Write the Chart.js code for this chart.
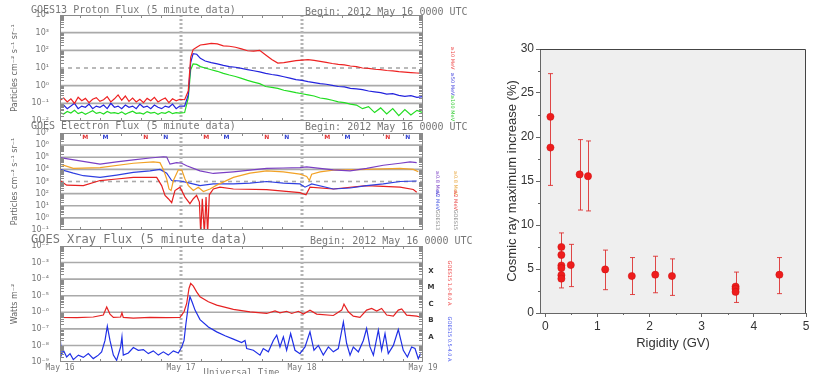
<!DOCTYPE html>
<html>
<head>
<meta charset="utf-8">
<script src="https://cdn.jsdelivr.net/npm/chart.js@4.4.1/dist/chart.umd.min.js"></script>
<style>
html, body { margin: 0; padding: 0; background: #fff; width: 823px; height: 374px; overflow: hidden; }
canvas { position: absolute; }
#c1 { left: 0; top: 0; }
#c2 { left: 0; top: 116px; }
#c3 { left: 0; top: 226px; }
#c4 { left: 501px; top: 30px; }
</style>
</head>
<body>
<canvas id="c1" width="475" height="124"></canvas>
<canvas id="c2" width="475" height="117"></canvas>
<canvas id="c3" width="475" height="160"></canvas>
<canvas id="c4" width="322" height="325"></canvas>
<script>
// ---- proton flux (days since 2012 May 16 00 UT) ----
const protonT = [0, 0.03, 0.06, 0.09, 0.12, 0.15, 0.18, 0.21, 0.24, 0.27, 0.30, 0.33, 0.36, 0.39, 0.42, 0.45, 0.48, 0.51, 0.54, 0.57, 0.60, 0.63, 0.66, 0.69, 0.72, 0.75, 0.78, 0.81, 0.84, 0.87, 0.90, 0.93, 0.96, 0.99,
  1.03, 1.06, 1.08, 1.10, 1.13, 1.16, 1.20,
  1.25, 1.30, 1.35, 1.40, 1.45, 1.50, 1.55, 1.60, 1.65, 1.70, 1.75, 1.80, 1.85, 1.90, 1.95, 2.00, 2.05, 2.10, 2.15, 2.20, 2.25, 2.30, 2.35, 2.40, 2.45, 2.50, 2.55, 2.60, 2.65, 2.70, 2.75, 2.80, 2.85, 2.90, 2.95, 3.00];
const proton10 = [0.15, 0.2, 0.12, 0.18, 0.1, 0.22, 0.14, 0.19, 0.11, 0.17, 0.21, 0.13, 0.16, 0.24, 0.12, 0.18, 0.3, 0.15, 0.26, 0.13, 0.2, 0.12, 0.17, 0.11, 0.19, 0.14, 0.22, 0.12, 0.16, 0.2, 0.11, 0.18, 0.14, 0.17,
  0.16, 0.5, 40, 110, 150, 200, 220,
  250, 230, 180, 170, 150, 120, 95, 90, 100, 55, 30, 19, 20, 23, 26, 28, 30, 27, 24, 21, 18, 16, 15, 13, 12, 10, 9.5, 8.5, 8, 7.2, 6.8, 6.2, 5.8, 5.5, 5.2, 5.0];
const proton50 = [0.06, 0.08, 0.05, 0.07, 0.1, 0.05, 0.07, 0.06, 0.09, 0.05, 0.07, 0.06, 0.08, 0.05, 0.1, 0.06, 0.07, 0.05, 0.08, 0.06, 0.07, 0.05, 0.09, 0.06, 0.07, 0.05, 0.08, 0.06, 0.05, 0.07, 0.06, 0.09, 0.05, 0.07,
  0.07, 0.3, 20, 65, 60, 35, 25,
  20, 17, 14, 12, 11, 9.5, 8, 7, 6, 5, 4.3, 3.8, 3.2, 2.7, 2.2, 2.0, 1.7, 1.5, 1.3, 1.2, 1.05, 0.9, 0.85, 0.7, 0.65, 0.6, 0.5, 0.45, 0.4, 0.33, 0.35, 0.28, 0.25, 0.27, 0.22, 0.24];
const proton100 = [0.03, 0.025, 0.035, 0.028, 0.04, 0.026, 0.032, 0.024, 0.03, 0.038, 0.027, 0.031, 0.025, 0.035, 0.028, 0.03, 0.026, 0.033, 0.024, 0.03, 0.036, 0.027, 0.029, 0.025, 0.034, 0.028, 0.031, 0.024, 0.03, 0.027, 0.035, 0.026, 0.03, 0.028,
  0.03, 0.2, 8, 17, 16, 12, 10,
  8, 6.5, 5, 4, 3.3, 2.6, 2, 1.6, 1.3, 0.9, 0.8, 0.7, 0.55, 0.48, 0.4, 0.35, 0.3, 0.26, 0.2, 0.18, 0.15, 0.12, 0.11, 0.09, 0.08, 0.05, 0.065, 0.03, 0.055, 0.025, 0.05, 0.02, 0.045, 0.022, 0.04, 0.03];

// ---- electron flux ----
const e08g13T = [0, 0.165, 0.331, 0.468, 0.606, 0.744, 0.854, 0.882, 0.909, 0.964, 1.006, 1.047, 1.157, 1.267, 1.433, 1.570, 1.708, 1.846, 1.983, 2.039, 2.149, 2.259, 2.397, 2.534, 2.672, 2.810, 2.893, 2.948];
const e08g13 = [9.3e4, 5e4, 2.7e4, 4.1e4, 6e4, 8.7e4, 1.1e5, 1.05e5, 2.7e4, 3.6e4, 3.2e4, 2e4, 7.6e3, 4.6e3, 6.3e3, 8.6e3, 1.2e4, 1.3e4, 1.4e4, 1.6e4, 1.2e4, 9.1e3, 7.6e3, 1.2e4, 2.2e4, 3.2e4, 4.1e4, 3.6e4];
const e08g15T = [0, 0.110, 0.331, 0.606, 0.771, 0.826, 0.854, 0.882, 0.901, 0.918, 0.937, 0.978, 1.006, 1.033, 1.061, 1.102, 1.143, 1.185, 1.240, 1.295, 1.433, 1.570, 1.708, 1.846, 1.983, 2.039, 2.061, 2.080, 2.149, 2.259, 2.534, 2.810, 2.920, 2.961];
const e08g15 = [2.7e4, 1.2e4, 1.4e4, 3.2e4, 4.1e4, 3.6e4, 1e4, 1.6e3, 2.4e2, 1.8e2, 1.2e3, 9.1e3, 9.1e3, 1.6e3, 4.6e2, 1.8e2, 3.4e2, 1.5e2, 2.4e2, 5e2, 2.2e3, 4.9e3, 7.6e3, 6.3e3, 4e3, 2.6e3, 1.2e3, 4e3, 6.3e3, 8.6e3, 1e4, 1.2e4, 1e4, 6.3e3];
const e2g13T = [0, 0.110, 0.193, 0.331, 0.468, 0.606, 0.744, 0.826, 0.882, 0.923, 0.992, 1.047, 1.157, 1.267, 1.433, 1.570, 1.708, 1.846, 1.983, 2.025, 2.080, 2.259, 2.397, 2.534, 2.672, 2.810, 2.948];
const e2g13 = [1e4, 4.9e3, 3e3, 2.2e3, 3.4e3, 5.6e3, 7.6e3, 1e4, 4.9e3, 1.2e3, 1.1e3, 8.5e2, 4.6e2, 6.3e2, 6.3e2, 7.3e2, 1e3, 7.3e2, 6.3e2, 3.4e2, 6.3e2, 2.4e2, 2.9e2, 4.6e2, 6.3e2, 1e3, 1.1e3];
const e2g15T = [0, 0.055, 0.193, 0.331, 0.468, 0.606, 0.799, 0.840, 0.868, 0.895, 0.923, 0.950, 0.992, 1.033, 1.074, 1.102, 1.129, 1.152, 1.163, 1.176, 1.193, 1.207, 1.220, 1.234, 1.267, 1.322, 1.433, 1.708, 1.983, 2.033, 2.066, 2.259, 2.534, 2.810, 2.920, 2.948];
const e2g15 = [1.2e3, 5e2, 4.6e2, 1.2e3, 1.6e3, 2.2e3, 2.2e3, 4.6e2, 71, 38, 18, 1.8e2, 3.4e2, 52, 15, 38, 71, 20, 0.05, 38, 0.05, 52, 0.05, 80, 2.4e2, 3.4e2, 2.4e2, 2.1e2, 1.2e2, 80, 3.4e2, 2.4e2, 4.6e2, 3.4e2, 2.2e2, 1.3e2];
const mnTimes = [0.208, 0.375, 0.708, 0.875, 1.208, 1.375, 1.708, 1.875, 2.208, 2.375, 2.708, 2.875];
const mnLabels = ['M', 'M', 'N', 'N', 'M', 'M', 'N', 'N', 'M', 'M', 'N', 'N'];

// ---- x-ray flux ----
const xrLongT = [0, 0.014, 0.138, 0.275, 0.358, 0.386, 0.413, 0.441, 0.501, 0.512, 0.523, 0.606, 0.744, 0.882, 0.992, 1.025, 1.047, 1.066, 1.080, 1.102, 1.129, 1.157, 1.226, 1.295, 1.433, 1.570, 1.708, 1.777, 1.818, 1.873, 1.915, 1.970, 2.011, 2.066, 2.121, 2.259, 2.328, 2.347, 2.383, 2.424, 2.479, 2.534, 2.576, 2.617, 2.658, 2.700, 2.755, 2.796, 2.824, 2.865, 2.948, 2.975];
const xrLong = [8.5e-7, 4.9e-7, 4.7e-7, 5.2e-7, 6.8e-7, 2.1e-6, 7.8e-7, 4.9e-7, 5.2e-7, 9.3e-7, 4.9e-7, 4.5e-7, 4.9e-7, 4.7e-7, 4.9e-7, 1.07e-6, 3.4e-6, 2.75e-5, 5.5e-5, 3.8e-5, 1.7e-5, 8.7e-6, 4.3e-6, 2.7e-6, 1.5e-6, 1.07e-6, 8.5e-7, 1.2e-6, 9.3e-7, 1.15e-6, 8.5e-7, 1.15e-6, 7.8e-7, 1.35e-6, 7.8e-7, 6.4e-7, 1.35e-6, 3.1e-6, 1.07e-6, 5.8e-7, 4.9e-7, 1.35e-6, 1.7e-6, 1.2e-6, 1.7e-6, 6.8e-7, 5.8e-7, 1.35e-6, 1.6e-6, 6.8e-7, 5.8e-7, 5.2e-7];
const xrShortT = [0, 0.011, 0.028, 0.055, 0.083, 0.110, 0.152, 0.193, 0.234, 0.275, 0.317, 0.344, 0.372, 0.391, 0.413, 0.441, 0.468, 0.501, 0.512, 0.523, 0.565, 0.606, 0.647, 0.689, 0.730, 0.771, 0.813, 0.854, 0.895, 0.937, 0.978, 1.006, 1.025, 1.041, 1.061, 1.074, 1.091, 1.116, 1.157, 1.226, 1.295, 1.364, 1.433, 1.501, 1.529, 1.543, 1.598, 1.653, 1.680, 1.722, 1.763, 1.791, 1.818, 1.846, 1.873, 1.906, 1.942, 1.983, 2.025, 2.066, 2.099, 2.135, 2.176, 2.218, 2.259, 2.300, 2.342, 2.369, 2.397, 2.424, 2.466, 2.507, 2.534, 2.562, 2.590, 2.631, 2.658, 2.686, 2.713, 2.755, 2.796, 2.837, 2.871, 2.906, 2.934, 2.961, 2.981];
const xrShort = [5.2e-8, 2.6e-9, 5.1e-9, 2.0e-9, 3.2e-9, 1.4e-9, 2.6e-9, 1.9e-9, 3.2e-9, 1.6e-9, 2.6e-9, 4.1e-9, 2.0e-8, 1.45e-7, 2.0e-8, 2.6e-9, 1.26e-9, 8.1e-9, 3.3e-8, 2.6e-9, 3.5e-9, 7.4e-9, 5.1e-9, 5.6e-9, 3.2e-9, 4.7e-9, 2.6e-9, 4.1e-9, 2.6e-9, 4.7e-9, 3.5e-9, 8.1e-9, 2.0e-8, 2.1e-7, 2.7e-6, 8.7e-6, 4.3e-6, 1.35e-6, 3.6e-7, 1.3e-7, 6.6e-8, 3.8e-8, 2.4e-8, 1.5e-8, 2.0e-8, 6.5e-9, 5.1e-9, 2.6e-9, 6.5e-9, 4.1e-9, 2.0e-8, 4.2e-8, 8.1e-9, 3.3e-8, 5.1e-9, 5.2e-8, 5.1e-9, 3.2e-9, 8.1e-9, 6.6e-8, 5.1e-9, 1.0e-8, 2.6e-9, 8.1e-9, 4.1e-9, 6.5e-9, 2.6e-7, 1.3e-8, 2.6e-9, 8.1e-9, 4.1e-9, 2.0e-8, 1.05e-7, 8.1e-9, 2.6e-9, 8.3e-8, 5.1e-9, 5.2e-8, 3.2e-9, 1.0e-8, 9.1e-8, 5.1e-9, 2.0e-9, 8.1e-9, 6.5e-9, 1.6e-9, 3.2e-9];
const dayLabels = ['May 16', 'May 17', 'May 18', 'May 19'];
const flareClasses = ['A', 'B', 'C', 'M', 'X'];
const flareClassExp = [-8, -7, -6, -5, -4];

// ---- cosmic ray increase vs rigidity ----
const rigidity = [0.1, 0.1, 0.31, 0.31, 0.31, 0.31, 0.31, 0.31, 0.49, 0.66, 0.82, 1.15, 1.66, 2.11, 2.43, 3.65, 3.65, 3.65, 4.49];
const increase = [22.3, 18.8, 7.5, 6.6, 5.4, 5.1, 4.3, 3.9, 5.45, 15.75, 15.55, 4.95, 4.2, 4.35, 4.2, 3.0, 2.75, 2.4, 4.35];
const errX = [0.1, 0.31, 0.49, 0.66, 0.82, 1.15, 1.66, 2.11, 2.43, 3.65, 4.49];
const errLow = [14.5, 2.85, 3.0, 11.7, 11.6, 2.65, 2.1, 2.3, 2.0, 1.2, 2.2];
const errHigh = [27.2, 9.1, 7.8, 19.7, 19.55, 7.15, 6.3, 6.45, 6.15, 4.65, 6.3];
const rigidityTicks = [0, 1, 2, 3, 4, 5];
const increaseTicks = [0, 5, 10, 15, 20, 25, 30];

// ---------------------------------------------------------------
const sup = { '-': '⁻', '0': '⁰', '1': '¹', '2': '²', '3': '³', '4': '⁴', '5': '⁵', '6': '⁶', '7': '⁷', '8': '⁸', '9': '⁹' };
function pow10Label(v) {
    const e = String(Math.round(Math.log10(v)));
    return '10' + e.split('').map(c => sup[c]).join('');
}
function pts(t, v) {
    return t.map((tt, i) => ({ x: tt, y: v[i] }));
}
function line(label, t, v, color) {
    return { label: label, data: pts(t, v), borderColor: color, borderWidth: 1.2, pointRadius: 0, tension: 0, fill: false };
}

const mono = 'DejaVu Sans Mono, monospace';

// grid, frame, minor ticks and side labels of the GOES panels
const goesDeco = {
    id: 'goesDeco',
    beforeDatasetsDraw(chart, args, o) {
        const { ctx, chartArea: a, scales: { x, y } } = chart;
        ctx.save();
        ctx.strokeStyle = '#aaaaaa';
        ctx.lineWidth = 1.6;
        for (let e = o.lo + 1; e < o.hi; e++) {
            const py = y.getPixelForValue(Math.pow(10, e));
            ctx.setLineDash(e === o.dashed ? [4, 4] : []);
            ctx.beginPath(); ctx.moveTo(a.left, py); ctx.lineTo(a.right, py); ctx.stroke();
        }
        ctx.setLineDash([2, 2]);
        ctx.lineWidth = 3;
        ctx.strokeStyle = '#b4b4b4';
        [1, 2].forEach(d => {
            const px = x.getPixelForValue(d);
            ctx.beginPath(); ctx.moveTo(px, a.top); ctx.lineTo(px, a.bottom); ctx.stroke();
        });
        ctx.restore();
    },
    afterDatasetsDraw(chart, args, o) {
        const { ctx, chartArea: a, scales: { x, y } } = chart;
        ctx.save();
        ctx.strokeStyle = '#8a8a8a';
        ctx.lineWidth = 1;
        ctx.strokeRect(a.left + 0.5, a.top + 0.5, a.right - a.left - 1, a.bottom - a.top - 1);
        ctx.beginPath();
        for (let e = o.lo; e < o.hi; e++) {
            for (let k = 2; k <= 9; k++) {
                const py = Math.round(y.getPixelForValue(k * Math.pow(10, e))) + 0.5;
                ctx.moveTo(a.left, py); ctx.lineTo(a.left + 4, py);
                ctx.moveTo(a.right - 4, py); ctx.lineTo(a.right, py);
            }
        }
        for (let h = 1; h < 18; h++) {
            if (h % 6 === 0) continue;
            const px = Math.round(x.getPixelForValue(h / 6)) + 0.5;
            ctx.moveTo(px, a.top); ctx.lineTo(px, a.top + 3);
            ctx.moveTo(px, a.bottom - 3); ctx.lineTo(px, a.bottom);
        }
        ctx.stroke();

        ctx.textBaseline = 'middle';
        (o.texts || []).forEach(t => {
            ctx.save();
            ctx.font = t.font;
            ctx.fillStyle = t.color;
            ctx.textAlign = t.align || 'left';
            ctx.translate(t.x, t.y);
            if (t.rot) ctx.rotate(t.rot * Math.PI / 180);
            ctx.fillText(t.text, 0, 0);
            ctx.restore();
        });

        if (o.markers) {
            ctx.font = 'bold 6px DejaVu Sans';
            ctx.textAlign = 'center';
            mnTimes.forEach((t, i) => {
                ctx.fillStyle = i % 2 === 0 ? '#e03030' : '#3040d0';
                ctx.fillText(mnLabels[i], x.getPixelForValue(t), a.top + 4);
            });
        }
        if (o.classes) {
            ctx.font = 'bold 7px DejaVu Sans';
            ctx.fillStyle = '#333';
            ctx.textAlign = 'center';
            flareClasses.forEach((c, i) => {
                const e = flareClassExp[i];
                const py = (y.getPixelForValue(Math.pow(10, e)) + y.getPixelForValue(Math.pow(10, e + 1))) / 2;
                ctx.fillText(c, a.right + 8, py);
            });
        }
        ctx.restore();
    }
};

function goesOptions(lo, hi, dashed, yTitle, pad, xAxis, deco) {
    return {
        responsive: false,
        animation: false,
        layout: { padding: pad },
        plugins: { legend: { display: false }, tooltip: { enabled: false }, goesDeco: Object.assign({ lo: lo, hi: hi, dashed: dashed }, deco) },
        scales: {
            x: xAxis,
            y: {
                type: 'logarithmic',
                min: Math.pow(10, lo),
                max: Math.pow(10, hi),
                grid: { display: false, drawTicks: false },
                border: { display: false },
                afterBuildTicks: s => {
                    const t = [];
                    for (let e = lo; e <= hi; e++) t.push({ value: Math.pow(10, e) });
                    s.ticks = t;
                },
                afterFit: s => { s.width = 50; s.paddingTop = 0; s.paddingBottom = 0; },
                ticks: { callback: v => pow10Label(v), font: { family: 'DejaVu Sans', size: 8 }, color: '#777', padding: 11, autoSkip: false },
                title: { display: true, text: yTitle, font: { family: 'DejaVu Sans', size: 8 }, color: '#666', padding: 0 }
            }
        }
    };
}

const hiddenX = () => ({ type: 'linear', min: 0, max: 3, display: false });

new Chart(document.getElementById('c1'), {
    type: 'line',
    data: {
        datasets: [
            line('≥10 MeV', protonT, proton10, '#ee2222'),
            line('≥50 MeV', protonT, proton50, '#2323dd'),
            line('≥100 MeV', protonT, proton100, '#22dd22')
        ]
    },
    options: goesOptions(-2, 4, 1, 'Particles cm⁻² s⁻¹ sr⁻¹', { top: 15, right: 52, bottom: 3, left: 10 }, hiddenX(), {
        texts: [
            { text: 'GOES13 Proton Flux (5 minute data)', x: 31, y: 10, font: '10px ' + mono, color: '#777' },
            { text: 'Begin: 2012 May 16 0000 UTC', x: 305, y: 12, font: '10px ' + mono, color: '#777' },
            { text: '≥10 MeV', x: 452, y: 58, rot: 90, align: 'center', font: '5px DejaVu Sans', color: '#ee4444' },
            { text: '≥50 MeV', x: 452, y: 84, rot: 90, align: 'center', font: '5px DejaVu Sans', color: '#4444dd' },
            { text: '≥100 MeV', x: 452, y: 108, rot: 90, align: 'center', font: '5px DejaVu Sans', color: '#33cc33' }
        ]
    }),
    plugins: [goesDeco]
});

new Chart(document.getElementById('c2'), {
    type: 'line',
    data: {
        datasets: [
            line('GOES13 ≥0.8 MeV', e08g13T, e08g13, '#7a3fc4'),
            line('GOES15 ≥0.8 MeV', e08g15T, e08g15, '#f2a226'),
            line('GOES13 ≥2 MeV', e2g13T, e2g13, '#2f3fe0'),
            line('GOES15 ≥2 MeV', e2g15T, e2g15, '#e62020')
        ]
    },
    options: goesOptions(-1, 7, 3, 'Particles cm⁻² s⁻¹ sr⁻¹', { top: 17, right: 52, bottom: 3, left: 10 }, hiddenX(), {
        markers: true,
        texts: [
            { text: 'GOES Electron Flux (5 minute data)', x: 31, y: 10, font: '10px ' + mono, color: '#777' },
            { text: 'Begin: 2012 May 16 0000 UTC', x: 305, y: 11, font: '10px ' + mono, color: '#777' },
            { text: '≥0.8 MeV', x: 437, y: 67, rot: 90, align: 'center', font: '5px DejaVu Sans', color: '#7a3fc4' },
            { text: '≥2 MeV', x: 437, y: 84, rot: 90, align: 'center', font: '5px DejaVu Sans', color: '#3f4fe0' },
            { text: 'GOES13', x: 437, y: 104, rot: 90, align: 'center', font: '5px DejaVu Sans', color: '#888' },
            { text: '≥0.8 MeV', x: 455, y: 67, rot: 90, align: 'center', font: '5px DejaVu Sans', color: '#e8a840' },
            { text: '≥2 MeV', x: 455, y: 84, rot: 90, align: 'center', font: '5px DejaVu Sans', color: '#e84040' },
            { text: 'GOES15', x: 455, y: 104, rot: 90, align: 'center', font: '5px DejaVu Sans', color: '#888' }
        ]
    }),
    plugins: [goesDeco]
});

new Chart(document.getElementById('c3'), {
    type: 'line',
    data: {
        datasets: [
            line('GOES15 1.0-8.0 A', xrLongT, xrLong, '#e62222'),
            line('GOES15 0.5-4.0 A', xrShortT, xrShort, '#1f2fe6')
        ]
    },
    options: goesOptions(-9, -2, null, 'Watts m⁻²', { top: 20, right: 52, bottom: 8, left: 10 }, {
        type: 'linear', min: 0, max: 3,
        grid: { display: false, drawTicks: false },
        border: { display: false },
        afterBuildTicks: s => { s.ticks = dayLabels.map((d, i) => ({ value: i })); },
        afterFit: s => { s.height = 16; },
        ticks: { callback: v => dayLabels[v], font: { family: mono, size: 8 }, color: '#777', padding: 1, maxRotation: 0, autoSkip: false },
        title: { display: true, text: 'Universal Time', font: { family: mono, size: 9 }, color: '#777', padding: 0 }
    }, {
        classes: true,
        texts: [
            { text: 'GOES Xray Flux (5 minute data)', x: 31, y: 14, font: '12px ' + mono, color: '#777' },
            { text: 'Begin: 2012 May 16 0000 UTC', x: 310, y: 15, font: '10px ' + mono, color: '#777' },
            { text: 'GOES15 1.0-8.0 A', x: 449, y: 57, rot: 90, align: 'center', font: '5px DejaVu Sans', color: '#ee4444' },
            { text: 'GOES15 0.5-4.0 A', x: 449, y: 113, rot: 90, align: 'center', font: '5px DejaVu Sans', color: '#4455ee' }
        ]
    }),
    plugins: [goesDeco]
});

// ---- right chart: error bars, frame and minor ticks ----
const errDeco = {
    id: 'errDeco',
    beforeDraw(chart) {
        const { ctx, chartArea: a } = chart;
        ctx.save();
        ctx.fillStyle = '#efefef';
        ctx.fillRect(a.left, a.top, a.right - a.left, a.bottom - a.top);
        ctx.restore();
    },
    beforeDatasetsDraw(chart) {
        const { ctx, scales: { x, y } } = chart;
        ctx.save();
        ctx.strokeStyle = 'rgba(220,40,40,0.85)';
        ctx.lineWidth = 1;
        ctx.beginPath();
        errX.forEach((v, i) => {
            const px = Math.round(x.getPixelForValue(v)) + 0.5;
            const y1 = y.getPixelForValue(errLow[i]);
            const y2 = y.getPixelForValue(errHigh[i]);
            ctx.moveTo(px, y1); ctx.lineTo(px, y2);
            ctx.moveTo(px - 2.5, y1); ctx.lineTo(px + 2.5, y1);
            ctx.moveTo(px - 2.5, y2); ctx.lineTo(px + 2.5, y2);
        });
        ctx.stroke();
        ctx.restore();
    },
    afterDraw(chart) {
        const { ctx, chartArea: a, scales: { x, y } } = chart;
        ctx.save();
        ctx.strokeStyle = '#444';
        ctx.lineWidth = 1;
        ctx.beginPath();
        ctx.moveTo(a.left, a.top + 0.5); ctx.lineTo(a.right - 0.5, a.top + 0.5); ctx.lineTo(a.right - 0.5, a.bottom);
        ctx.stroke();
        ctx.strokeStyle = '#666';
        ctx.beginPath();
        for (let v = 0.5; v < 5; v += 1) {
            const px = Math.round(x.getPixelForValue(v)) + 0.5;
            ctx.moveTo(px, a.bottom); ctx.lineTo(px, a.bottom + 2);
        }
        for (let v = 2.5; v < 30; v += 5) {
            const py = Math.round(y.getPixelForValue(v)) + 0.5;
            ctx.moveTo(a.left, py); ctx.lineTo(a.left - 2, py);
        }
        ctx.stroke();
        ctx.restore();
    }
};

new Chart(document.getElementById('c4'), {
    type: 'scatter',
    data: {
        datasets: [{
            label: 'Cosmic ray maximum increase',
            data: pts(rigidity, increase),
            backgroundColor: '#ee1c1c',
            borderColor: '#cc1010',
            borderWidth: 0.5,
            pointRadius: 3.6
        }]
    },
    options: {
        responsive: false,
        animation: false,
        layout: { padding: { top: 19, right: 17, bottom: 0, left: 0 } },
        plugins: { legend: { display: false }, tooltip: { enabled: false } },
        scales: {
            x: {
                type: 'linear', min: -0.1, max: 5,
                afterBuildTicks: s => { s.ticks = rigidityTicks.map(v => ({ value: v })); },
                afterFit: s => { s.height = 42; },
                grid: { drawOnChartArea: false, drawTicks: true, tickLength: 4, color: '#666' },
                border: { color: '#666', width: 1 },
                ticks: { font: { family: 'Liberation Sans', size: 12 }, color: '#333', padding: 2, maxRotation: 0 },
                title: { display: true, text: 'Rigidity (GV)', font: { family: 'Liberation Sans', size: 13 }, color: '#333' }
            },
            y: {
                type: 'linear', min: 0, max: 30,
                afterBuildTicks: s => { s.ticks = increaseTicks.map(v => ({ value: v })); },
                afterFit: s => { s.width = 39; },
                grid: { drawOnChartArea: false, drawTicks: true, tickLength: 4, color: '#666' },
                border: { color: '#666', width: 1 },
                ticks: { font: { family: 'Liberation Sans', size: 12 }, color: '#333', padding: 2 },
                title: { display: true, text: 'Cosmic ray maximum increase (%)', font: { family: 'Liberation Sans', size: 13 }, color: '#333' }
            }
        }
    },
    plugins: [errDeco]
});
</script>
